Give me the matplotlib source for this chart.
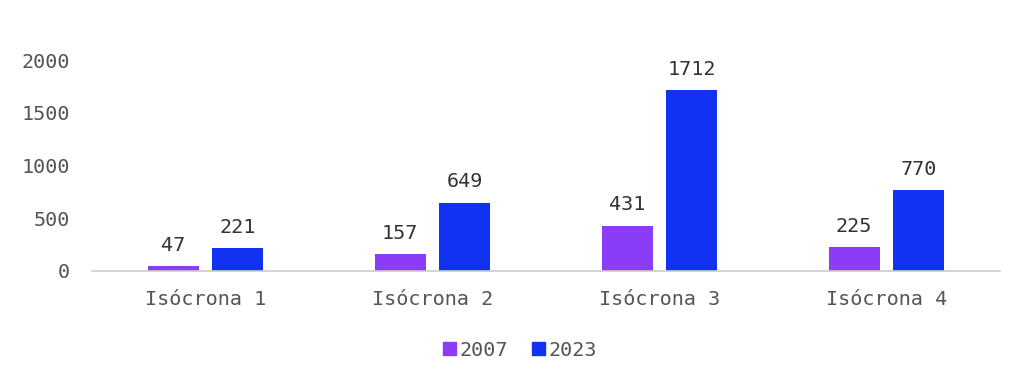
import matplotlib
matplotlib.use("Agg")
import matplotlib.pyplot as plt
import numpy as np
from matplotlib.patches import Patch

categories = ["Isócrona 1", "Isócrona 2", "Isócrona 3", "Isócrona 4"]
series_names = ["2007", "2023"]
values_2007 = [47, 157, 431, 225]
values_2023 = [221, 649, 1712, 770]
yticks = [0, 500, 1000, 1500, 2000]

colors = ["#8a3cf7", "#1232f2"]
font = ["DejaVu Sans Mono"]

fig = plt.figure(figsize=(10.24, 3.75), dpi=100)
ax = fig.add_axes([92/1024, 1 - 271/375, 908/1024, 211/375])

x = np.arange(len(categories))
w = 0.225
off = 0.143
b1 = ax.bar(x - off, values_2007, w, color=colors[0])
b2 = ax.bar(x + off, values_2023, w, color=colors[1])

for bars, vals in ((b1, values_2007), (b2, values_2023)):
    for r, v in zip(bars, vals):
        ax.annotate(str(v), (r.get_x() + r.get_width()/2, r.get_height()),
                    xytext=(0, 8), textcoords="offset points",
                    ha="center", va="bottom", fontsize=14.5,
                    family=font, color="#333333")

ax.set_xlim(-0.5, len(categories) - 0.5)
ax.set_ylim(0, 2000)
ax.set_yticks(yticks)
ax.set_yticklabels([str(t) for t in yticks], family=font, fontsize=14.5, color="#555555")
ax.set_xticks(x)
ax.set_xticklabels(categories, family=font, fontsize=14.5, color="#555555")
ax.tick_params(axis="both", length=0)
ax.tick_params(axis="y", pad=16)
ax.tick_params(axis="x", pad=14)
for s in ["top", "right", "left"]:
    ax.spines[s].set_visible(False)
ax.spines["bottom"].set_color("#cccccc")
ax.spines["bottom"].set_linewidth(1.2)

handles = [Patch(color=colors[0], label=series_names[0]),
           Patch(color=colors[1], label=series_names[1])]
leg = fig.legend(handles=handles, loc="center", bbox_to_anchor=(520/1024, 1 - 350/375),
                 ncol=2, frameon=False, handlelength=0.65, handleheight=0.65,
                 handletextpad=0.15, columnspacing=1.2,
                 prop={"family": font[0], "size": 14.5})
for t in leg.get_texts():
    t.set_color("#555555")

fig.savefig("out.png", dpi=100)
